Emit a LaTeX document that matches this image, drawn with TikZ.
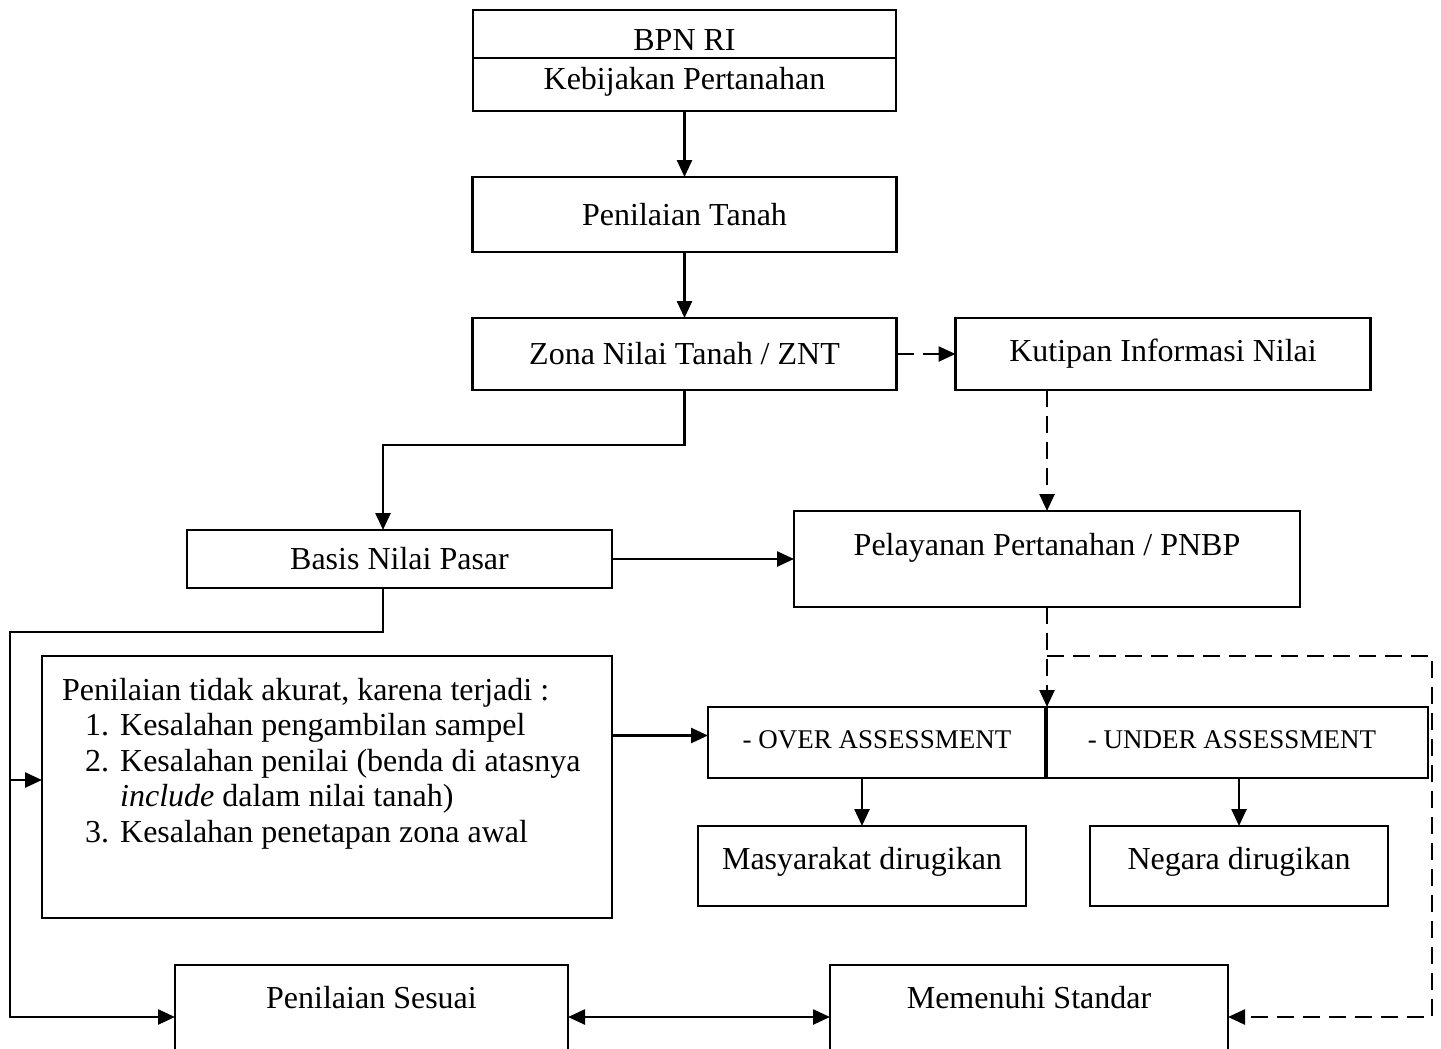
\documentclass[tikz,border=0pt]{standalone}
\usepackage{fontspec}
\setmainfont{Liberation Serif}
\usetikzlibrary{positioning,arrows.meta}

\begin{document}
\begin{tikzpicture}[x=1pt, y=-1pt,
    box/.style = {draw, line width=2.4pt, inner sep=4pt, outer sep=0pt,
                  font=\fontsize{32}{35.5}\selectfont},
    lift/.style = {text height=22pt, text depth=#1},
    kecil/.style = {font=\fontsize{27}{30}\selectfont},
    arr/.style = {line width=2.5pt, -{Triangle[length=17pt, width=15pt]}},
    putus/.style = {arr, dash pattern=on 17pt off 9pt}]

    \useasboundingbox (0,0) rectangle (1441,1049);

    % kolom tengah
    \node[box, text height=34pt, text depth=0pt, minimum width=423pt, minimum height=48pt] (bpn) at (684.5,34) {BPN RI};
    \node[box, lift=13pt, minimum width=423pt, minimum height=53pt, below=0pt of bpn] (kebijakan) {Kebijakan Pertanahan};
    \node[box, minimum width=424pt, minimum height=75pt, below=66pt of kebijakan] (tanah) {Penilaian Tanah};
    \node[box, minimum width=424pt, minimum height=72pt, below=66pt of tanah] (znt) {Zona Nilai Tanah / ZNT};
    \node[box, minimum width=415pt, minimum height=72pt, right=59pt of znt] (kutipan) {Kutipan Informasi Nilai};

    \node[box, minimum width=425pt, minimum height=58pt] (basis) at (399.5,559) {Basis Nilai Pasar};
    \node[box, lift=30pt, minimum width=506pt, minimum height=96pt, right=182pt of basis] (pelayanan) {Pelayanan Pertanahan / PNBP};

    % kotak penilaian tidak akurat
    \node[box, minimum width=570pt, minimum height=262pt] (akurat) at (327,787) {};
    \node[font=\fontsize{32}{35.5}\selectfont, align=left, inner sep=0pt,
          below right=22pt and 20pt of akurat.north west] (akuratTxt) {%
      Penilaian tidak akurat, karena terjadi :\\
      \hspace*{23pt}\makebox[35pt][l]{1.}Kesalahan pengambilan sampel\\
      \hspace*{23pt}\makebox[35pt][l]{2.}Kesalahan penilai (benda di atasnya\\
      \hspace*{58pt}\textit{include} dalam nilai tanah)\\
      \hspace*{23pt}\makebox[35pt][l]{3.}Kesalahan penetapan zona awal};

    \node[box, kecil, lift=10pt, minimum width=338pt, minimum height=71pt] (over) at (877,742.5) {- OVER ASSESSMENT};
    \node[box, kecil, lift=10pt, xshift=0pt, minimum width=382pt, minimum height=71pt, right=0pt of over] (under) {\hspace*{-10pt}- UNDER ASSESSMENT};
    \draw[line width=4pt] (over.north east) -- (over.south east);

    \node[box, lift=16pt, minimum width=328pt, minimum height=80pt] (masyarakat) at (862,866) {Masyarakat dirugikan};
    \node[box, lift=16pt, minimum width=298pt, minimum height=80pt, right=64pt of masyarakat] (negara) {Negara dirugikan};

    \node[box, lift=40pt, minimum width=393pt, minimum height=104pt] (sesuai) at (371.5,1017) {Penilaian Sesuai};
    \node[box, lift=40pt, minimum width=398pt, minimum height=104pt, right=262pt of sesuai] (standar) {Memenuhi Standar};

    \coordinate (belok) at (383,445);
    \coordinate (kiri) at (10,632);
    \coordinate (cabang) at (pelayanan.south |- 0,656);
    \coordinate (kanan) at (1432,656);

    % panah
    \draw[arr] (kebijakan) -- (tanah);
    \draw[arr] (tanah) -- (znt);
    \draw[putus] (znt) -- (kutipan);
    \draw[arr] (znt.south) |- (belok) -- (belok |- basis.north);
    \draw[putus] (pelayanan.north |- kutipan.south) -- (pelayanan.north);
    \draw[arr] (basis) -- (pelayanan);
    \draw[arr] (belok |- basis.south) |- (kiri) |- (sesuai.west);
    \draw[arr] ([yshift=7pt]kiri |- akurat.west) -- ([yshift=7pt]akurat.west);
    \draw[arr] ([yshift=7pt]akurat.east |- over.west) -- ([yshift=7pt]over.west);
    \draw[putus] (pelayanan.south) -- (pelayanan.south |- over.north);
    \draw[putus] (cabang) -- (kanan) |- (standar.east);
    \draw[arr] (masyarakat.north |- over.south) -- (masyarakat.north);
    \draw[arr] (negara.north |- under.south) -- (negara.north);
    \draw[line width=2.5pt, {Triangle[length=17pt, width=15pt]}-{Triangle[length=17pt, width=15pt]}] (sesuai) -- (standar);
\end{tikzpicture}
\end{document}
